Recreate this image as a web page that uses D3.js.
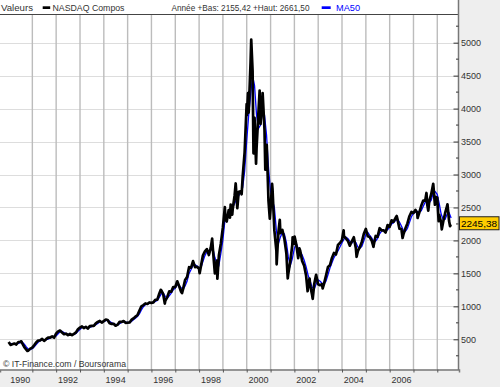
<!DOCTYPE html>
<html>
<head>
<meta charset="utf-8">
<script src="https://cdn.jsdelivr.net/npm/d3@7"></script>
<style>
  body { margin: 0; background: #eeeeee; }
  svg text { font-family: "Liberation Sans", Arial, sans-serif; font-size: 9px; fill: #333; }
</style>
</head>
<body>
<svg id="chart"></svg>
<script>
// monthly closes (end of month), one row per year
var closes = [
  [416, 425, 436, 421, 459, 462, 438, 381, 345, 329, 359, 374],          // 1990
  [414, 453, 482, 484, 506, 476, 502, 526, 527, 543, 524, 586],          // 1991
  [620, 633, 604, 579, 585, 563, 581, 563, 583, 605, 652, 677],          // 1992
  [696, 671, 690, 662, 700, 704, 705, 743, 763, 779, 754, 777],          // 1993
  [800, 793, 743, 734, 735, 706, 722, 766, 764, 777, 750, 752],          // 1994
  [755, 794, 817, 843, 865, 933, 1001, 1020, 1044, 1036, 1059, 1052],    // 1995
  [1060, 1100, 1101, 1191, 1243, 1185, 1081, 1141, 1227, 1222, 1293, 1291], // 1996
  [1380, 1309, 1222, 1261, 1401, 1443, 1594, 1587, 1686, 1594, 1601, 1570], // 1997
  [1619, 1771, 1835, 1869, 1779, 1895, 1873, 1499, 1694, 1771, 1950, 2193], // 1998
  [2506, 2288, 2461, 2543, 2471, 2686, 2638, 2739, 2746, 2966, 3336, 4069], // 1999
  [3940, 4697, 4573, 3861, 3401, 3966, 3767, 4206, 3673, 3370, 2598, 2471], // 2000
  [2773, 2152, 1840, 2116, 2110, 2161, 2027, 1805, 1499, 1690, 1931, 1950], // 2001
  [1934, 1731, 1845, 1688, 1616, 1463, 1328, 1315, 1172, 1330, 1479, 1336], // 2002
  [1321, 1338, 1341, 1464, 1596, 1623, 1735, 1810, 1787, 1932, 1960, 2003], // 2003
  [2066, 2030, 1994, 1920, 1987, 2048, 1887, 1838, 1897, 1975, 2097, 2175], // 2004
  [2062, 2052, 1999, 1922, 2068, 2057, 2185, 2152, 2152, 2120, 2233, 2205], // 2005
  [2306, 2281, 2340, 2323, 2179, 2172, 2091, 2184, 2258, 2367, 2432, 2415], // 2006
  [2464, 2416, 2422, 2525, 2605, 2603, 2546, 2596, 2702, 2859, 2661, 2652], // 2007
  [2390, 2271, 2279, 2413, 2523, 2293]                                     // 2008
];

// intra-month highs and lows that show up as spikes
var swings = [
  ["1990-01-02", 459], ["1990-07-16", 470], ["1990-10-16", 325],
  ["1996-05-22", 1250], ["1996-07-24", 1042], ["1997-04-14", 1201],
  ["1998-01-09", 1503], ["1998-07-20", 2028], ["1998-10-08", 1419],
  ["1999-02-09", 2310], ["1999-04-19", 2345], ["1999-05-24", 2390],
  ["1999-07-16", 2864], ["1999-08-10", 2490], ["1999-10-15", 2700],
  ["2000-01-04", 3901], ["2000-01-21", 4235], ["2000-03-10", 5048],
  ["2000-04-14", 3321], ["2000-04-20", 3640], ["2000-05-23", 3164],
  ["2000-07-17", 4274], ["2000-09-01", 4234], ["2000-10-12", 3074],
  ["2000-11-03", 3451], ["2000-12-20", 2332], ["2001-01-24", 2859],
  ["2001-04-04", 1638], ["2001-05-22", 2313], ["2001-09-21", 1423],
  ["2001-12-05", 2046], ["2002-01-04", 2059], ["2002-03-19", 1880],
  ["2002-07-23", 1229], ["2002-08-22", 1422], ["2002-10-09", 1114],
  ["2003-03-11", 1271], ["2004-01-26", 2153], ["2004-08-12", 1752],
  ["2005-04-28", 1904], ["2006-04-19", 2370], ["2006-07-18", 2037],
  ["2007-03-05", 2340], ["2007-07-19", 2720], ["2007-08-16", 2451],
  ["2007-11-26", 2541], ["2008-01-22", 2292], ["2008-03-10", 2169],
  ["2008-06-05", 2549], ["2008-07-15", 2215], ["2008-07-25", 2245.38]
];

// 50 day moving average at month ends
var ma50 = [
  [440, 430, 428, 427, 438, 450, 455, 425, 385, 350, 345, 358],
  [385, 420, 455, 478, 492, 490, 494, 503, 518, 532, 533, 550],
  [585, 615, 620, 602, 588, 575, 575, 572, 575, 588, 620, 650],
  [680, 685, 683, 675, 682, 692, 703, 720, 742, 762, 765, 768],
  [782, 792, 775, 752, 736, 725, 718, 735, 755, 768, 762, 755],
  [753, 770, 795, 820, 845, 885, 945, 995, 1025, 1035, 1045, 1050],
  [1055, 1075, 1090, 1135, 1190, 1200, 1150, 1125, 1160, 1200, 1250, 1275],
  [1330, 1320, 1280, 1260, 1310, 1380, 1500, 1560, 1620, 1630, 1610, 1590],
  [1590, 1680, 1770, 1830, 1830, 1850, 1880, 1740, 1650, 1620, 1800, 2000],
  [2300, 2380, 2400, 2460, 2500, 2560, 2630, 2680, 2720, 2800, 3050, 3500],
  [3900, 4200, 4500, 4350, 3900, 3700, 3750, 3950, 3900, 3600, 3100, 2750],
  [2600, 2500, 2150, 1950, 2050, 2120, 2100, 1970, 1750, 1620, 1720, 1880],
  [1950, 1880, 1830, 1780, 1700, 1600, 1470, 1380, 1290, 1260, 1340, 1400],
  [1380, 1350, 1335, 1380, 1480, 1580, 1660, 1740, 1790, 1840, 1900, 1960],
  [2020, 2050, 2030, 1990, 1960, 1990, 1970, 1900, 1880, 1910, 1990, 2090],
  [2120, 2080, 2040, 1990, 1990, 2030, 2100, 2140, 2160, 2140, 2160, 2200],
  [2250, 2270, 2300, 2320, 2280, 2220, 2150, 2140, 2180, 2270, 2360, 2410],
  [2430, 2440, 2430, 2450, 2520, 2580, 2580, 2570, 2610, 2720, 2740, 2700],
  [2560, 2400, 2320, 2320, 2400, 2420, 2340]
];

var firstYear = 1990;
var yTicks = [500, 1000, 1500, 2000, 2500, 3000, 3500, 4000, 4500, 5000];
var yMinor = [250, 750, 1250, 1750, 2250, 2750, 3250, 3750, 4250, 4750, 5250];
var gridYears = d3.range(1991, 2009);
var yearLabels = ["1990", "1992", "1994", "1996", "1998", "2000", "2002", "2004", "2006"];
var lastValue = 2245.38;

var svgWidth = 500, svgHeight = 387;
var plotRight = 458.5, plotTop = 14.5, plotBottom = 369.5;

var parse = d3.timeParse("%Y-%m-%d");

// turn the per-year rows into dated points at month end
function monthly(rows) {
  var out = [];
  rows.forEach(function(row, i) {
    row.forEach(function(v, m) {
      out.push({ date: new Date(firstYear + i, m + 1, 0), value: v });
    });
  });
  return out;
}

var price = monthly(closes)
  .concat(swings.map(function(d) { return { date: parse(d[0]), value: d[1] }; }))
  .sort(function(a, b) { return a.date - b.date; });
var maData = monthly(ma50);

var x = d3.scaleTime()
  .domain([new Date(1989, 7, 23), new Date(2008, 10, 29)])
  .range([0, 459]);
var y = d3.scaleLinear()
  .domain([42, 5435])
  .range([plotBottom, 14]);

var svg = d3.select("#chart")
  .attr("width", svgWidth)
  .attr("height", svgHeight);

svg.append("rect").attr("width", svgWidth).attr("height", svgHeight).attr("fill", "#eeeeee");
svg.append("rect").attr("width", plotRight).attr("height", plotBottom).attr("fill", "#ffffff");

// horizontal grid
svg.append("g").selectAll("line")
  .data(yTicks)
  .enter().append("line")
  .attr("x1", 0).attr("x2", plotRight)
  .attr("y1", d => Math.round(y(d)) + 0.5).attr("y2", d => Math.round(y(d)) + 0.5)
  .attr("stroke", "#dddddd");

// vertical grid at year starts
svg.append("g").selectAll("line")
  .data(gridYears)
  .enter().append("line")
  .attr("x1", d => x(new Date(d, 0, 1))).attr("x2", d => x(new Date(d, 0, 1)))
  .attr("y1", plotTop).attr("y2", plotBottom)
  .attr("stroke", "#bcbcbc")
  .attr("stroke-width", 1.4);

// lines
var valueLine = d3.line().x(d => x(d.date)).y(d => y(d.value));
svg.append("path")
  .datum(maData)
  .attr("d", valueLine)
  .attr("fill", "none")
  .attr("stroke", "#0000ff")
  .attr("stroke-width", 1.3);

svg.append("path")
  .datum(price)
  .attr("d", valueLine)
  .attr("fill", "none")
  .attr("stroke", "#000000")
  .attr("stroke-width", 2.7)
  .attr("stroke-linejoin", "round");

// frame
svg.append("line").attr("x1", 0).attr("x2", plotRight).attr("y1", plotTop).attr("y2", plotTop)
  .attr("stroke", "#444");
svg.append("line").attr("x1", plotRight).attr("x2", plotRight).attr("y1", 0).attr("y2", plotBottom + 0.5)
  .attr("stroke", "#777").attr("stroke-width", 1.5);

// bottom axis
var bottomAxis = d3.axisBottom(x)
  .tickValues(gridYears.map(d => new Date(d, 0, 1)))
  .tickSize(3)
  .tickFormat("");
var xAxisG = svg.append("g")
  .attr("transform", `translate(0, ${plotBottom})`)
  .call(bottomAxis);
xAxisG.select(".domain").attr("stroke", "#777").attr("stroke-width", 1.5);
xAxisG.selectAll(".tick line").attr("stroke", "#555");

svg.append("g").selectAll("text")
  .data(yearLabels)
  .enter().append("text")
  .attr("x", d => x(new Date(+d, 6, 1)))
  .attr("y", 382.5)
  .attr("text-anchor", "middle")
  .text(d => d);

// right axis: ticks point inward, labels outside
var rightAxis = d3.axisLeft(y).tickValues(yTicks).tickSize(5).tickFormat("");
var yAxisG = svg.append("g")
  .attr("transform", `translate(${plotRight}, 0)`)
  .call(rightAxis);
yAxisG.select(".domain").remove();
yAxisG.selectAll(".tick line").attr("stroke", "#333");

svg.append("g").selectAll("line")
  .data(yMinor)
  .enter().append("line")
  .attr("x1", plotRight - 2.5).attr("x2", plotRight)
  .attr("y1", d => y(d)).attr("y2", d => y(d))
  .attr("stroke", "#333");

svg.append("g").selectAll("text")
  .data(yTicks)
  .enter().append("text")
  .attr("x", 461)
  .attr("y", d => y(d) + 3.3)
  .text(d => d);

// last value box
var lastG = svg.append("g");
lastG.append("rect")
  .attr("x", 459.5).attr("y", y(lastValue) - 7.5)
  .attr("width", 39.5).attr("height", 13)
  .attr("fill", "#ffcc00").attr("stroke", "#222");
lastG.append("text")
  .attr("x", 461).attr("y", y(lastValue) + 2.5)
  .attr("textLength", 36).attr("lengthAdjust", "spacingAndGlyphs")
  .style("fill", "#000")
  .text(d3.format(".2f")(lastValue).replace(".", ","));

// legend strip
svg.append("text").attr("x", 1).attr("y", 11)
  .attr("textLength", 32).attr("lengthAdjust", "spacingAndGlyphs").text("Valeurs");
svg.append("rect").attr("x", 42.7).attr("y", 6.3).attr("width", 7.5).attr("height", 2.7).attr("fill", "#000");
svg.append("text").attr("x", 52.5).attr("y", 11)
  .attr("textLength", 72).attr("lengthAdjust", "spacingAndGlyphs").text("NASDAQ Compos");
svg.append("text").attr("x", 171.5).attr("y", 11)
  .attr("textLength", 138).attr("lengthAdjust", "spacingAndGlyphs")
  .text("Année +Bas: 2155,42 +Haut: 2661,50");
svg.append("rect").attr("x", 321.7).attr("y", 6.3).attr("width", 9).attr("height", 2.7).attr("fill", "#0000ff");
svg.append("text").attr("x", 336).attr("y", 11)
  .attr("textLength", 24).attr("lengthAdjust", "spacingAndGlyphs")
  .style("fill", "#0000ff").text("MA50");

// source
svg.append("text").attr("x", 3).attr("y", 366.5)
  .attr("textLength", 123).attr("lengthAdjust", "spacingAndGlyphs")
  .text("© IT-Finance.com / Boursorama");
</script>
</body>
</html>
